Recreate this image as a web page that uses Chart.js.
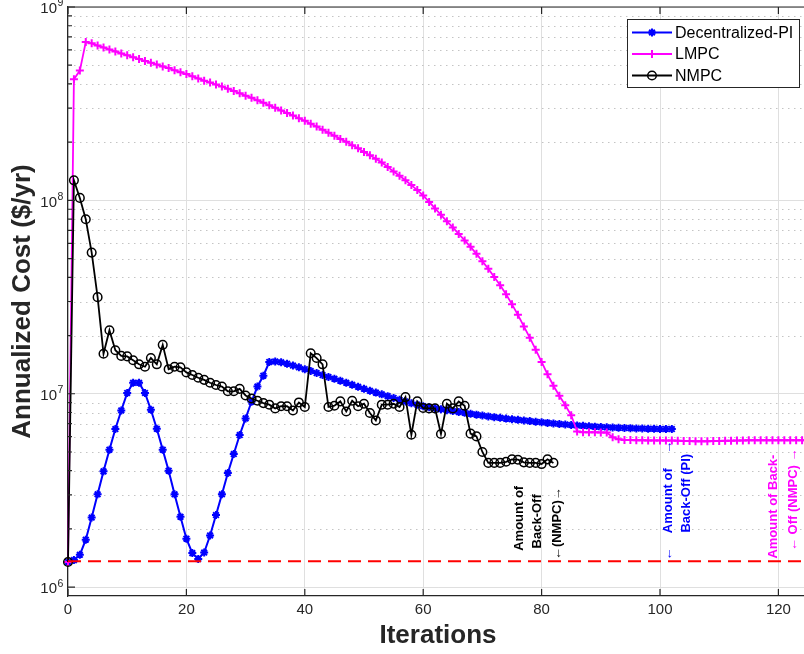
<!DOCTYPE html>
<html lang="en">
<head>
<meta charset="UTF-8">
<title>Annualized Cost vs Iterations</title>
<script src="https://cdn.jsdelivr.net/npm/chart.js@4"></script>
<style>
    html, body { margin: 0; padding: 0; overflow: hidden; background: #fff; }
    .wrap { position: relative; width: 816px; height: 654px; }
</style>
</head>
<body>
<div class="wrap"><canvas id="costChart"></canvas></div>
<script>
// values (one value per iteration, starting at 0)
const piCost = [
    1.35e6, 1.38e6, 1.47e6, 1.76e6, 2.29e6, 3.02e6, 3.97e6, 5.14e6, 6.57e6, 8.20e6,
    1.01e7, 1.14e7, 1.14e7, 1.01e7, 8.27e6, 6.59e6, 5.14e6, 4.00e6, 3.02e6, 2.31e6,
    1.78e6, 1.50e6, 1.40e6, 1.51e6, 1.85e6, 2.36e6, 3.02e6, 3.89e6, 4.88e6, 6.12e6,
    7.46e6, 9.09e6, 1.09e7, 1.24e7, 1.46e7, 1.47e7, 1.455e7, 1.43e7, 1.40e7, 1.37e7,
    1.34e7, 1.31e7, 1.28e7, 1.25e7, 1.22e7, 1.195e7, 1.167e7, 1.14e7, 1.113e7, 1.087e7,
    1.061e7, 1.036e7, 1.014e7, 9.93e6, 9.72e6, 9.51e6, 9.31e6, 9.12e6, 8.94e6, 8.78e6,
    8.62e6, 8.51e6, 8.41e6, 8.31e6, 8.23e6, 8.14e6, 8.05e6, 7.97e6, 7.88e6, 7.80e6,
    7.72e6, 7.64e6, 7.57e6, 7.51e6, 7.44e6, 7.38e6, 7.33e6, 7.28e6, 7.22e6, 7.17e6,
    7.12e6, 7.07e6, 7.02e6, 6.98e6, 6.94e6, 6.90e6, 6.86e6, 6.83e6, 6.79e6, 6.76e6,
    6.73e6, 6.71e6, 6.69e6, 6.67e6, 6.65e6, 6.64e6, 6.62e6, 6.61e6, 6.60e6, 6.59e6,
    6.58e6, 6.58e6, 6.57e6
];
const lmpcCost = [
    1.35e6, 4.23e8, 4.69e8, 6.59e8, 6.49e8, 6.32e8, 6.18e8, 6.03e8, 5.89e8, 5.75e8,
    5.63e8, 5.50e8, 5.38e8, 5.26e8, 5.15e8, 5.04e8, 4.93e8, 4.83e8, 4.71e8, 4.60e8,
    4.50e8, 4.38e8, 4.27e8, 4.16e8, 4.07e8, 3.97e8, 3.88e8, 3.78e8, 3.68e8, 3.58e8,
    3.48e8, 3.39e8, 3.29e8, 3.20e8, 3.10e8, 3.01e8, 2.92e8, 2.83e8, 2.75e8, 2.66e8,
    2.58e8, 2.49e8, 2.41e8, 2.32e8, 2.24e8, 2.16e8, 2.08e8, 2.01e8, 1.93e8, 1.86e8,
    1.78e8, 1.71e8, 1.64e8, 1.57e8, 1.49e8, 1.41e8, 1.34e8, 1.27e8, 1.20e8, 1.13e8,
    1.06e8, 9.82e7, 9.09e7, 8.42e7, 7.79e7, 7.25e7, 6.71e7, 6.21e7, 5.75e7, 5.29e7,
    4.84e7, 4.43e7, 4.02e7, 3.64e7, 3.27e7, 2.90e7, 2.56e7, 2.23e7, 1.95e7, 1.69e7,
    1.46e7, 1.26e7, 1.10e7, 9.76e6, 8.72e6, 7.74e6, 6.39e6, 6.33e6, 6.32e6, 6.32e6,
    6.31e6, 6.30e6, 5.96e6, 5.82e6, 5.77e6, 5.76e6, 5.75e6, 5.75e6, 5.74e6, 5.74e6,
    5.74e6, 5.73e6, 5.73e6, 5.72e6, 5.70e6, 5.69e6, 5.68e6, 5.68e6, 5.68e6, 5.69e6,
    5.70e6, 5.71e6, 5.72e6, 5.73e6, 5.74e6, 5.75e6, 5.75e6, 5.75e6, 5.75e6, 5.75e6,
    5.75e6, 5.75e6, 5.75e6, 5.75e6, 5.75e6, 5.75e6
];
const nmpcCost = [
    1.35e6, 1.27e8, 1.03e8, 7.99e7, 5.37e7, 3.16e7, 1.61e7, 2.13e7, 1.68e7, 1.57e7,
    1.56e7, 1.49e7, 1.42e7, 1.38e7, 1.53e7, 1.42e7, 1.79e7, 1.34e7, 1.38e7, 1.37e7,
    1.29e7, 1.25e7, 1.21e7, 1.18e7, 1.14e7, 1.11e7, 1.09e7, 1.03e7, 1.03e7, 1.06e7,
    9.80e6, 9.45e6, 9.20e6, 8.95e6, 8.78e6, 8.40e6, 8.62e6, 8.62e6, 8.20e6, 9.02e6,
    8.54e6, 1.62e7, 1.53e7, 1.42e7, 8.54e6, 8.67e6, 9.13e6, 8.10e6, 9.20e6, 8.62e6,
    8.88e6, 7.95e6, 7.28e6, 8.78e6, 8.78e6, 8.88e6, 8.54e6, 9.61e6, 6.14e6, 9.13e6,
    8.44e6, 8.40e6, 8.40e6, 6.19e6, 8.88e6, 8.40e6, 9.13e6, 8.67e6, 6.22e6, 6.02e6,
    5.00e6, 4.39e6, 4.39e6, 4.39e6, 4.45e6, 4.58e6, 4.56e6, 4.42e6, 4.39e6, 4.39e6,
    4.33e6, 4.58e6, 4.39e6
];
const baseCost = 1.36e6;          // red dashed reference level
const baseIter = [0, 125];
const xTicks = [0, 20, 40, 60, 80, 100, 120];
const yTicks = [1e6, 1e7, 1e8, 1e9];
const seriesNames = ['Decentralized-PI', 'LMPC', 'NMPC'];

// rotated "Amount of Back-Off" notes: text, iteration, cost at the middle of the line
const notes = [
    { text: 'Amount of', x: 76.3, y: 2.27e6, color: '#000000' },
    { text: 'Back-Off', x: 79.3, y: 2.19e6, color: '#000000' },
    { text: '\u2190(NMPC)\u2192', x: 82.6, y: 2.13e6, color: '#000000' },
    { text: '\u2190    Amount of    \u2192', x: 101.5, y: 2.80e6, color: '#0000ff' },
    { text: 'Back-Off (PI)', x: 104.4, y: 3.06e6, color: '#0000ff' },
    { text: 'Amount of Back-', x: 119.2, y: 2.61e6, color: '#ff00ff' },
    { text: '\u2190 Off (NMPC) \u2192', x: 122.6, y: 2.83e6, color: '#ff00ff' }
];

const FONT = '"Liberation Sans", Arial, Helvetica, sans-serif';
const AXIS_COLOR = '#262626';

function toPoints(values) {
    return values.map((v, i) => ({ x: i, y: v }));
}

const minorValues = [];
for (let k = 6; k <= 8; k++) {
    for (let m = 2; m <= 9; m++) minorValues.push(m * Math.pow(10, k));
}

const matlabAxes = {
    id: 'matlabAxes',
    beforeDatasetsDraw(chart) {
        const { ctx, chartArea: a, scales: { y } } = chart;
        ctx.save();
        ctx.strokeStyle = '#c4c4c4';
        ctx.lineWidth = 1;
        ctx.setLineDash([1.5, 4.5]);
        minorValues.forEach(v => {
            const py = Math.round(y.getPixelForValue(v)) + 0.5;
            ctx.beginPath();
            ctx.moveTo(a.left, py);
            ctx.lineTo(a.right, py);
            ctx.stroke();
        });
        ctx.restore();
    },
    afterDatasetsDraw(chart) {
        const { ctx, chartArea: a, scales: { x, y } } = chart;
        ctx.save();
        ctx.strokeStyle = AXIS_COLOR;
        ctx.lineWidth = 1.2;
        // frame top / right
        ctx.beginPath();
        ctx.moveTo(a.left, a.top);
        ctx.lineTo(a.right, a.top);
        ctx.lineTo(a.right, a.bottom);
        ctx.stroke();
        // inward ticks
        ctx.beginPath();
        xTicks.forEach(v => {
            const px = x.getPixelForValue(v);
            ctx.moveTo(px, a.bottom); ctx.lineTo(px, a.bottom - 7);
            ctx.moveTo(px, a.top); ctx.lineTo(px, a.top + 7);
        });
        yTicks.forEach(v => {
            const py = y.getPixelForValue(v);
            ctx.moveTo(a.left, py); ctx.lineTo(a.left + 7, py);
        });
        minorValues.forEach(v => {
            const py = y.getPixelForValue(v);
            ctx.moveTo(a.left, py); ctx.lineTo(a.left + 4, py);
        });
        ctx.stroke();

        // exponents of the 10^n tick labels
        ctx.fillStyle = AXIS_COLOR;
        ctx.font = '10.5px ' + FONT;
        ctx.textAlign = 'left';
        ctx.textBaseline = 'middle';
        yTicks.forEach(v => {
            const py = y.getPixelForValue(v);
            ctx.fillText(String(Math.round(Math.log10(v))), a.left - 10.5, py - 3.5);
        });

        // notes
        ctx.font = 'bold 13px ' + FONT;
        ctx.textAlign = 'center';
        ctx.textBaseline = 'middle';
        notes.forEach(n => {
            ctx.save();
            ctx.translate(x.getPixelForValue(n.x), y.getPixelForValue(n.y));
            ctx.rotate(-Math.PI / 2);
            ctx.fillStyle = n.color;
            ctx.fillText(n.text, 0, 0);
            ctx.restore();
        });

        // legend
        const lw = 172, lh = 68;
        const lx = a.right - 9 - lw, ly = a.top + 12;
        ctx.fillStyle = '#ffffff';
        ctx.fillRect(lx, ly, lw, lh);
        ctx.strokeStyle = AXIS_COLOR;
        ctx.lineWidth = 1;
        ctx.strokeRect(lx + 0.5, ly + 0.5, lw, lh);
        ctx.font = '16px ' + FONT;
        ctx.textAlign = 'left';
        seriesNames.forEach((name, i) => {
            const ds = chart.data.datasets[i];
            const cy = ly + 13.5 + i * 21.5;
            ctx.strokeStyle = ds.borderColor;
            ctx.lineWidth = ds.borderWidth;
            ctx.beginPath();
            ctx.moveTo(lx + 5, cy);
            ctx.lineTo(lx + 45, cy);
            ctx.stroke();
            ctx.fillStyle = ds.pointBackgroundColor;
            ctx.strokeStyle = ds.pointBorderColor;
            ctx.lineWidth = ds.pointBorderWidth;
            Chart.helpers.drawPoint(ctx, {
                pointStyle: ds.pointStyle, radius: ds.pointRadius,
                borderWidth: ds.pointBorderWidth, rotation: 0
            }, lx + 25, cy);
            ctx.fillStyle = '#000000';
            ctx.fillText(name, lx + 48, cy + 1);
        });
        ctx.restore();
    }
};

Chart.defaults.font.family = FONT;

new Chart(document.getElementById('costChart'), {
    type: 'line',
    data: {
        datasets: [
            {
                label: seriesNames[0], data: toPoints(piCost),
                borderColor: '#0000ff', borderWidth: 2,
                pointStyle: 'star', pointRadius: 4, pointBorderWidth: 2,
                pointBackgroundColor: '#0000ff', pointBorderColor: '#0000ff',
                order: 3, clip: false
            },
            {
                label: seriesNames[1], data: toPoints(lmpcCost),
                borderColor: '#ff00ff', borderWidth: 1.8,
                pointStyle: 'cross', pointRadius: 4, pointBorderWidth: 2,
                pointBackgroundColor: '#ff00ff', pointBorderColor: '#ff00ff',
                order: 2, clip: false
            },
            {
                label: seriesNames[2], data: toPoints(nmpcCost),
                borderColor: '#000000', borderWidth: 1.8,
                pointStyle: 'circle', pointRadius: 4.3, pointBorderWidth: 1.5,
                pointBackgroundColor: 'rgba(0,0,0,0)', pointBorderColor: '#000000',
                order: 1, clip: false
            },
            {
                label: 'base', data: baseIter.map(i => ({ x: i, y: baseCost })),
                borderColor: '#ff0000', borderWidth: 2, borderDash: [13, 7],
                pointRadius: 0, order: 0
            }
        ]
    },
    options: {
        responsive: true,
        maintainAspectRatio: false,
        animation: false,
        layout: { padding: { left: 0, top: 7, right: 8, bottom: 0 } },
        plugins: { legend: { display: false }, tooltip: { enabled: false } },
        elements: { line: { tension: 0 } },
        scales: {
            x: {
                type: 'linear', min: 0, max: 125,
                afterBuildTicks: s => { s.ticks = xTicks.map(v => ({ value: v })); },
                afterFit: s => {
                    s.height = 58;
                    s.paddingLeft = s.paddingRight = s.paddingTop = s.paddingBottom = 0;
                },
                grid: { color: '#dfdfdf', lineWidth: 1, drawTicks: false },
                border: { color: AXIS_COLOR, width: 1.2 },
                ticks: { color: AXIS_COLOR, font: { size: 15 }, padding: 5, maxRotation: 0, autoSkip: false },
                title: {
                    display: true, text: 'Iterations', color: AXIS_COLOR,
                    font: { size: 26, weight: 'bold' }, padding: { top: 0, bottom: 3 }
                }
            },
            y: {
                type: 'logarithmic', min: 9e5, max: 1e9,
                afterBuildTicks: s => { s.ticks = yTicks.map(v => ({ value: v })); },
                afterFit: s => {
                    s.width = 68;
                    s.paddingLeft = s.paddingRight = s.paddingTop = s.paddingBottom = 0;
                },
                grid: { color: '#dfdfdf', lineWidth: 1, drawTicks: false },
                border: { color: AXIS_COLOR, width: 1.2 },
                ticks: {
                    color: AXIS_COLOR, font: { size: 15 }, padding: 11, autoSkip: false,
                    labelOffset: 2,
                    callback: () => '10'
                },
                title: {
                    display: true, text: 'Annualized Cost ($/yr)', color: AXIS_COLOR,
                    font: { size: 26, weight: 'bold' }, padding: { top: 7, bottom: 0 }
                }
            }
        }
    },
    plugins: [matlabAxes]
});
</script>
</body>
</html>
